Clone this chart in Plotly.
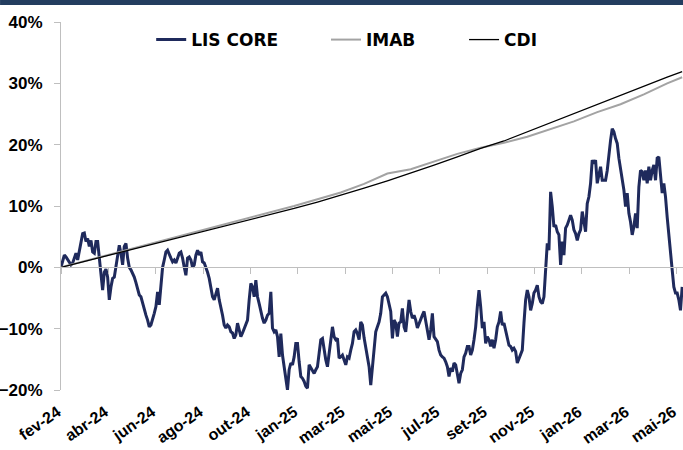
import plotly.graph_objects as go

# ---- data -------------------------------------------------------------
tick_labels = ['fev-24', 'abr-24', 'jun-24', 'ago-24', 'out-24', 'jan-25', 'mar-25',
               'mai-25', 'jul-25', 'set-25', 'nov-25', 'jan-26', 'mar-26', 'mai-26']
points_per_label = 28.44  # observations between two axis labels

lis_core = [
    0.0, 1.2, 2.0, 1.7, 1.3, 0.9, 0.4, 0.7, 1.5, 2.3, 1.2, 2.5, 4.0, 5.5, 5.6, 4.2, 4.7, 3.4, 4.4, 2.5,
    2.3, 4.2, 4.2, 1.5, -1.6, -3.7, -0.8, -0.3, -1.6, -5.3, -3.2, -1.8, -1.6, 0.0, 1.7, 3.6, 2.3, 0.4, 3.4, 3.9,
    1.5, 0.0, -0.4, -1.0, -1.6, -2.5, -3.4, -4.5, -4.8, -5.9, -7.0, -7.8, -8.6, -9.7, -9.4, -8.6, -7.5, -6.4, -4.0, -6.1,
    -2.6, 0.0, 1.2, 2.5,
    2.8, 2.0, 1.5, 0.9, 1.2, 0.7, 1.5, 2.3, 2.5, 1.5, 0.0, -1.3, 1.5, 1.7, 1.2, 0.0, 0.4, 2.0, 2.8, 2.0,
    2.5, 0.9, 0.7, 0.0, -0.8, -1.8, -3.2, -4.8, -5.3, -4.2, -3.4, -5.3, -6.4, -7.8, -9.4, -9.9, -9.4, -9.7, -10.5, -10.7,
    -11.6, -11.0, -9.1, -10.2, -11.3, -10.7, -9.9, -9.1, -8.6, -5.3, -2.6, -3.2, -4.8, -2.1, -4.8, -5.9, -7.2, -8.3, -9.1, -8.6,
    -7.8,
    -7.5, -4.0, -9.9, -10.5, -10.2, -11.3, -14.6, -10.8, -14.3, -16.2, -18.4, -20.0, -16.7, -15.6, -15.9, -14.6, -12.4, -12.4, -15.4, -17.8,
    -18.1, -18.6, -19.4, -19.7, -15.9, -16.4, -16.7, -17.3, -16.7, -16.2, -14.0, -11.8, -11.6, -13.5, -15.1, -16.2, -14.0, -12.7, -9.7, -11.3,
    -11.8, -11.6, -14.8, -14.6, -14.3, -15.1, -15.9, -14.6, -14.8, -13.5, -12.4, -10.5, -10.2, -10.8, -11.8,
    -8.9, -9.4, -11.5, -13.2, -14.8, -16.2, -19.2, -15.9, -12.9, -10.5, -9.7, -8.9, -7.5, -4.8, -4.5, -4.2, -4.8, -5.9, -7.2, -11.6,
    -8.6, -9.1, -11.3, -9.1, -8.9, -6.7, -9.7, -10.5, -8.0, -5.3, -7.2, -8.3, -7.8, -8.6, -9.9, -9.1, -8.6, -7.8, -7.2, -8.9,
    -9.9, -11.8, -10.2, -7.5, -11.3, -11.8, -12.1, -13.5, -14.3, -14.6, -14.8, -15.4, -16.2, -17.8, -16.4, -17.0, -15.6, -15.9, -17.3, -18.9,
    -17.3, -16.7, -14.6, -14.0, -12.9,
    -12.9, -14.3, -13.5, -11.8, -9.7, -6.4, -3.7, -6.4, -9.9, -8.9, -12.4, -11.3, -11.8, -12.9, -11.8, -13.2, -11.8, -9.7, -8.9, -7.2,
    -9.4, -9.1, -10.5, -11.8, -12.7, -12.9, -13.5, -13.2, -13.7, -15.6, -14.8, -14.0, -13.5, -9.1, -5.3, -3.7, -4.8, -7.0, -5.9, -4.2,
    -3.7, -2.9, -4.8, -5.6, -5.9, -4.8, 0.6, 3.9, 2.8, 12.3, 9.9, 6.6, 6.9, 5.8, 5.3, 0.4, 4.2, 2.0, 6.4, 6.9,
    7.7,
    8.5, 7.7, 6.1, 5.5, 4.4, 5.5, 6.1, 9.1, 7.7, 5.8, 10.4, 11.5, 13.7, 17.5, 16.9, 17.5, 13.7, 15.3, 16.4, 14.2,
    14.2, 14.2, 15.8, 18.6, 20.7, 22.6, 22.1, 21.0, 20.2, 17.8, 16.1, 14.2, 12.6, 9.9, 12.1, 8.8, 7.4, 5.3, 6.6, 8.8,
    6.4, 13.1, 15.8, 15.6, 14.2, 15.8, 13.7, 16.4, 14.2, 15.8, 16.7, 14.2, 17.8, 18.0, 14.2, 12.1, 13.7, 11.5, 8.2, 5.0,
    1.7, -0.4, -3.2, -4.2, -4.2, -5.3, -7.0, -3.2,
]

bench_obs = [0, 14, 28, 42, 56, 70, 84, 98, 112, 126, 140, 154, 168, 182, 196, 210,
             224, 238, 252, 266, 280, 294, 308, 322, 336, 350, 364, 373]
imab = [0.0, 1.0, 2.0, 2.9, 3.9, 4.9, 5.9, 6.9, 7.9, 8.9, 10.0, 11.1, 12.2, 13.6, 15.3, 16.0,
        17.2, 18.5, 19.5, 20.3, 21.3, 22.5, 23.8, 25.3, 26.6, 28.2, 30.0, 31.0]
cdi = [0.0, 0.95, 1.95, 2.9, 3.85, 4.8, 5.75, 6.7, 7.65, 8.6, 9.6, 10.65, 11.75, 12.9, 14.1, 15.35,
       16.65, 18.0, 19.4, 20.6, 22.1, 23.6, 25.0, 26.5, 28.0, 29.5, 31.0, 31.9]

# ---- figure -----------------------------------------------------------
lis_x = list(range(len(lis_core)))
tickvals = [k * points_per_label for k in range(len(tick_labels))]
ticktext = [t + '\u00a0' for t in tick_labels]

NAVY = '#1f2a5c'
AXIS = '#bfbfbf'
FONT = 'Liberation Sans'

fig = go.Figure()
fig.add_trace(go.Scatter(x=lis_x, y=lis_core, mode='lines', name='LIS CORE',
                         line=dict(color=NAVY, width=3), legend='legend'))
fig.add_trace(go.Scatter(x=bench_obs, y=imab, mode='lines', name='IMAB',
                         line=dict(color='#a3a3a3', width=2), legend='legend2'))
fig.add_trace(go.Scatter(x=bench_obs, y=cdi, mode='lines', name='CDI',
                         line=dict(color='#000000', width=1.3), legend='legend3'))
# helper trace so that the zero-line axis (ticks on y=0) is rendered
fig.add_trace(go.Scatter(x=bench_obs, y=cdi, xaxis='x2', mode='lines',
                         line=dict(width=0), opacity=0, showlegend=False, hoverinfo='skip'))

legend_common = dict(orientation='h', yanchor='middle', xanchor='left', y=0.951,
                     font=dict(family='DejaVu Sans', size=17, color='black', weight='bold'),
                     bgcolor='rgba(0,0,0,0)')

fig.update_layout(
    width=683, height=450,
    margin=dict(l=61, r=0, t=22, b=60),
    plot_bgcolor='white', paper_bgcolor='white',
    font=dict(family=FONT, color='black'),
    showlegend=True,
    legend=dict(x=0.145, **legend_common),
    legend2=dict(x=0.426, **legend_common),
    legend3=dict(x=0.648, **legend_common),
    xaxis=dict(range=[0, 373.5], tickvals=tickvals, ticktext=ticktext, tickangle=-35,
               showline=False, showgrid=False, zeroline=False, automargin=False,
               ticks='outside', ticklen=3, tickcolor='rgba(0,0,0,0)',
               ticklabeloverflow='allow',
               tickfont=dict(family=FONT, size=16, color='black', weight='bold')),
    xaxis2=dict(overlaying='x', matches='x', anchor='free', position=1/3,
                tickvals=tickvals, showticklabels=False, ticks='outside', ticklen=6,
                tickcolor=AXIS, showline=True, linecolor=AXIS, linewidth=1,
                showgrid=False, zeroline=False, automargin=False),
    yaxis=dict(range=[-20, 40], dtick=10, ticksuffix='%', showline=True, linecolor=AXIS,
               ticks='outside', ticklen=6, tickcolor=AXIS, showgrid=False, zeroline=False,
               ticklabelstandoff=8, automargin=False,
               tickfont=dict(family=FONT, size=17, color='black', weight='bold')),
    shapes=[dict(type='rect', xref='paper', yref='paper', x0=-0.098, x1=1.0,
                 y0=1.046, y1=1.0598, fillcolor='#233d5f', line=dict(width=0))],
)

fig.write_html('out.html', config={'displayModeBar': False},
               post_script="document.documentElement.style.overflow='hidden';"
                           "document.body.style.margin='0px';document.body.style.overflow='hidden';")
